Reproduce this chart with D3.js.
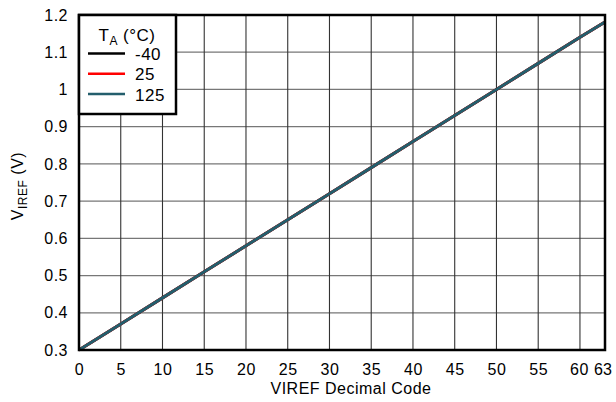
<!DOCTYPE html>
<html><head><meta charset="utf-8">
<script src="https://cdn.jsdelivr.net/npm/d3@7"></script>
<style>body{margin:0;background:#fff}svg{display:block;font-family:"Liberation Sans",Arial,sans-serif}text{letter-spacing:0.5px}</style>
</head><body><svg id="c" width="616" height="402"></svg>
<script>
const codes = [0,5,10,15,20,25,30,35,40,45,50,55,60,63];
const vM40 = [0.300,0.370,0.440,0.510,0.580,0.650,0.720,0.790,0.860,0.930,1.000,1.070,1.140,1.181];
const v25  = [0.300,0.370,0.440,0.510,0.580,0.650,0.720,0.790,0.860,0.930,1.000,1.070,1.140,1.181];
const v125 = [0.300,0.370,0.440,0.510,0.580,0.650,0.720,0.790,0.860,0.930,1.000,1.070,1.140,1.181];
const xTicks = [0,5,10,15,20,25,30,35,40,45,50,55,60,63];
const yTicks = [0.3,0.4,0.5,0.6,0.7,0.8,0.9,1.0,1.1,1.2];
const seriesNames = ["-40","25","125"];
const seriesColors = ["#000000","#ff0000","#235e6c"];

const svg = d3.select("#c");
const L=79,R=605,T=15,B=350;
const x = d3.scaleLinear().domain([0,63]).range([L,R]);
const y = d3.scaleLinear().domain([0.3,1.2]).range([B,T]);

// grid
svg.append("g").selectAll("line").data(yTicks).join("line")
  .attr("x1",L).attr("x2",R).attr("y1",d=>y(d)).attr("y2",d=>y(d))
  .attr("stroke","#777").attr("stroke-width",1.2);
svg.append("g").selectAll("line").data(xTicks).join("line")
  .attr("y1",T).attr("y2",B).attr("x1",d=>x(d)).attr("x2",d=>x(d))
  .attr("stroke","#333").attr("stroke-width",1.1);

// lines
const series=[vM40,v25,v125];
const line = d3.line().x((d,i)=>x(codes[i])).y(d=>y(d));
series.forEach((s,k)=>{
  svg.append("path").datum(s).attr("d",line).attr("fill","none")
    .attr("stroke",seriesColors[k]).attr("stroke-width",3);
});

// frame
svg.append("rect").attr("x",L).attr("y",T).attr("width",R-L).attr("height",B-T)
  .attr("fill","none").attr("stroke","#000").attr("stroke-width",2.5);

// axes labels
const FS=16;
const xa = d3.axisBottom(x).tickValues(xTicks).tickSize(0).tickPadding(14).tickFormat(d3.format("d"));
const gx = svg.append("g").attr("transform",`translate(0,${B})`).call(xa);
gx.select(".domain").remove();
gx.selectAll("text").attr("font-size",FS).attr("fill","#000").attr("font-family","Liberation Sans, Arial, sans-serif");
gx.selectAll(".tick").filter(d=>d===60).select("text").attr("dx",-1);
gx.selectAll(".tick").filter(d=>d===63).select("text").attr("dx",-2.5).style("letter-spacing","0.2px");

const ya = d3.axisLeft(y).tickValues(yTicks).tickSize(0).tickPadding(11).tickFormat(d=>d3.format("")(+d.toFixed(1)));
const gy = svg.append("g").attr("transform",`translate(${L},0)`).call(ya);
gy.select(".domain").remove();
gy.selectAll("text").attr("font-size",FS).attr("fill","#000").attr("font-family","Liberation Sans, Arial, sans-serif");

svg.append("text").attr("x",351).attr("y",394).attr("text-anchor","middle")
  .attr("font-size",FS).text("VIREF Decimal Code");
const yl = svg.append("text").attr("transform",`translate(23,${186}) rotate(-90)`)
  .attr("text-anchor","middle").attr("font-size",FS);
yl.append("tspan").text("V");
yl.append("tspan").attr("font-size",12).attr("dy",4).text("IREF");
yl.append("tspan").attr("dy",-4).text(" (V)");

// legend
const lg = svg.append("g");
lg.append("rect").attr("x",L).attr("y",T).attr("width",97).attr("height",99)
  .attr("fill","#fff").attr("stroke","#000").attr("stroke-width",2.5);
const tt = lg.append("text").attr("x",127).attr("y",41).attr("text-anchor","middle").attr("font-size",17);
tt.append("tspan").text("T");
tt.append("tspan").attr("font-size",12).attr("dy",4).text("A");
tt.append("tspan").attr("dy",-4).text(" (°C)");
seriesNames.forEach((n,k)=>{
  const yy = 53.5 + k*20.3;
  lg.append("line").attr("x1",88).attr("x2",125).attr("y1",yy).attr("y2",yy)
    .attr("stroke",seriesColors[k]).attr("stroke-width",2.5);
  lg.append("text").attr("x",135).attr("y",yy+6.5).attr("font-size",17).text(n);
});
</script></body></html>
